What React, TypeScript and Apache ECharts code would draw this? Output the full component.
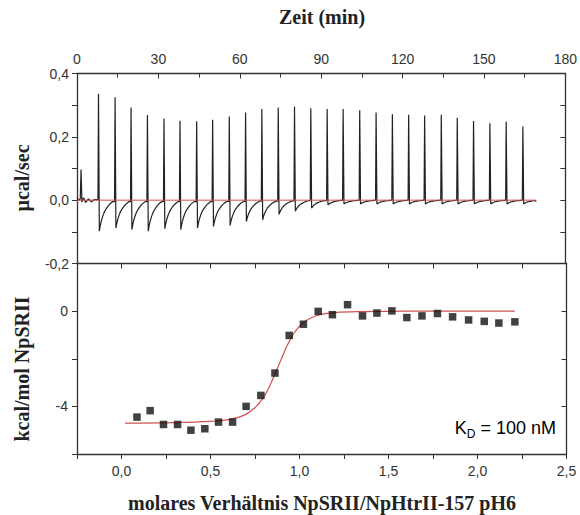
import React, { useEffect, useRef } from "react";
import * as echarts from "echarts";

// ---- Top panel: raw thermogram ----
const injectionTimes = [7.73, 13.84, 19.73, 25.76, 31.87, 37.76, 43.91, 49.8, 55.94, 61.94, 67.94, 73.98, 79.98, 85.98, 92.01, 97.9, 104.01, 110.05, 116.05, 122.05, 127.94, 134.08, 139.97, 145.97, 152.0, 158.0, 164.15];
const peakHeights = [0.336, 0.325, 0.293, 0.269, 0.258, 0.251, 0.249, 0.254, 0.264, 0.277, 0.288, 0.293, 0.296, 0.29, 0.288, 0.288, 0.284, 0.277, 0.271, 0.27, 0.267, 0.27, 0.26, 0.25, 0.243, 0.248, 0.233];
const troughDepths = [-0.098, -0.088, -0.093, -0.098, -0.09, -0.093, -0.088, -0.083, -0.08, -0.067, -0.062, -0.045, -0.035, -0.025, -0.015, -0.012, -0.012, -0.012, -0.012, -0.012, -0.012, -0.012, -0.012, -0.012, -0.012, -0.012, -0.012];
// recovery shape after each injection (min after injection, fraction of trough depth), read from one injection
const recoveryTimes = [0.5, 0.8, 1.2, 1.7, 2.2, 2.8, 3.4, 4.0, 4.7, 5.4];
const recoveryFrac = [1, 0.84, 0.68, 0.53, 0.41, 0.31, 0.23, 0.16, 0.1, 0.05];
const preTrace: [number, number][] = [[0, 0.006], [0.8, 0.0], [1.2, 0.004], [1.5, 0.097], [1.8, -0.006], [2.4, 0.008], [3.2, -0.007], [4.2, 0.004], [5.3, -0.005], [6.5, 0.002]];
const traceEnd: [number, number] = [169.3, -0.004];
const baselineLine: [number, number][] = [[0, 0], [169.3, 0]];

// ---- Bottom panel: integrated heats ----
const ratioX = [0.087, 0.161, 0.236, 0.315, 0.39, 0.468, 0.545, 0.624, 0.7, 0.783, 0.862, 0.942, 1.022, 1.105, 1.185, 1.27, 1.354, 1.435, 1.519, 1.603, 1.688, 1.775, 1.86, 1.95, 2.038, 2.12, 2.21];
const heatY = [-4.45, -4.18, -4.76, -4.76, -5.0, -4.94, -4.66, -4.66, -4.0, -3.54, -2.6, -1.02, -0.55, -0.01, -0.15, 0.27, -0.2, -0.08, 0.01, -0.27, -0.2, -0.1, -0.24, -0.37, -0.43, -0.5, -0.45];
const fitX = [0.02, 0.3, 0.5, 0.6, 0.68, 0.74, 0.8, 0.85, 0.89, 0.93, 0.97, 1.01, 1.06, 1.12, 1.2, 1.35, 1.6, 2.21];
const fitY = [-4.7, -4.68, -4.63, -4.56, -4.4, -4.12, -3.6, -2.85, -2.15, -1.45, -0.92, -0.56, -0.3, -0.14, -0.06, -0.02, 0, 0];

const timeTicks = [0, 30, 60, 90, 120, 150, 180];

function buildTrace(): [number, number][] {
  const pts: [number, number][] = preTrace.slice();
  let last = preTrace[preTrace.length - 1][1];
  injectionTimes.forEach((t0, i) => {
    pts.push([t0, last]);
    pts.push([t0 + 0.2, peakHeights[i]]);
    recoveryTimes.forEach((rt, k) => {
      const next = i + 1 < injectionTimes.length ? injectionTimes[i + 1] : traceEnd[0];
      if (t0 + rt < next) pts.push([t0 + rt, troughDepths[i] * recoveryFrac[k]]);
    });
    last = troughDepths[i] * recoveryFrac[recoveryFrac.length - 1];
  });
  pts.push(traceEnd);
  return pts;
}

const AXIS = "#333";
const LABEL = { color: "#333", fontFamily: "Liberation Sans, Arial, sans-serif", fontSize: 14 };
const TITLE_FONT = "bold 20px 'Liberation Serif', 'Times New Roman', serif";
const GL = 77;
const GR = 13.5;

export default function App() {
  const ref = useRef<HTMLDivElement>(null);
  useEffect(() => {
    if (!ref.current) return;
    const chart = echarts.init(ref.current, undefined, { renderer: "svg" });
    const axisLine = { show: true, onZero: false, lineStyle: { color: AXIS, width: 1.3 } };
    const fmtComma1 = (v: number) => v.toFixed(1).replace(".", ",").replace("-0,0", "0,0");
    chart.setOption({
      animation: false,
      backgroundColor: "#fff",
      grid: [
        { left: GL, right: GR, top: 73.5, height: 190 },
        { left: GL, right: GR, top: 263.5, height: 190.5 },
      ],
      xAxis: [
        {
          type: "value", gridIndex: 0, position: "top", min: 0, max: 180, interval: 30,
          axisLine, splitLine: { show: false },
          axisTick: { show: true, inside: true, length: 5, lineStyle: { color: AXIS } },
          minorTick: { show: true, splitNumber: 2, length: 4, lineStyle: { color: AXIS } },
          axisLabel: { ...LABEL, margin: 8, formatter: (v: number) => (timeTicks.includes(v) ? String(v) : "") },
        },
        {
          type: "value", gridIndex: 1, position: "bottom", min: -0.25, max: 2.5, interval: 0.25,
          axisLine, splitLine: { show: false },
          axisTick: { show: true, inside: false, length: 5, lineStyle: { color: AXIS } },
          axisLabel: {
            ...LABEL, margin: 10,
            formatter: (v: number) => {
              const r = Math.round(v * 4);
              return r % 2 === 0 ? fmtComma1(v) : "";
            },
          },
        },
        {
          type: "value", gridIndex: 1, position: "top", min: -0.25, max: 2.5, interval: 0.25,
          axisLine, splitLine: { show: false },
          axisTick: { show: true, inside: true, length: 5, lineStyle: { color: AXIS } },
          axisLabel: { show: false },
        },
      ],
      yAxis: [
        {
          type: "value", gridIndex: 0, position: "left", min: -0.2, max: 0.4, interval: 0.2,
          axisLine, splitLine: { show: false },
          axisTick: { show: true, inside: false, length: 5, lineStyle: { color: AXIS } },
          minorTick: { show: true, splitNumber: 2, length: 5, lineStyle: { color: AXIS } },
          axisLabel: { ...LABEL, margin: 8, formatter: fmtComma1 },
        },
        {
          type: "value", gridIndex: 0, position: "right", min: -0.2, max: 0.4, interval: 0.2,
          axisLine, splitLine: { show: false },
          axisTick: { show: true, inside: true, length: 5, lineStyle: { color: AXIS } },
          minorTick: { show: true, splitNumber: 2, length: 5, lineStyle: { color: AXIS } },
          axisLabel: { show: false },
        },
        {
          type: "value", gridIndex: 1, position: "left", min: -6, max: 2, interval: 2,
          axisLine, splitLine: { show: false },
          axisTick: { show: true, inside: false, length: 5, lineStyle: { color: AXIS } },
          axisLabel: {
            ...LABEL, margin: 9,
            formatter: (v: number) => (v === 0 ? "0" : v === -4 ? "-4" : ""),
          },
        },
        {
          type: "value", gridIndex: 1, position: "right", min: -6, max: 2, interval: 2,
          axisLine, splitLine: { show: false },
          axisTick: { show: true, inside: true, length: 5, lineStyle: { color: AXIS } },
          axisLabel: { show: false },
        },
      ],
      series: [
        {
          type: "line", xAxisIndex: 0, yAxisIndex: 0, data: buildTrace(), showSymbol: false,
          lineStyle: { color: "#222", width: 1.2 }, silent: true, z: 2,
        },
        {
          type: "line", xAxisIndex: 0, yAxisIndex: 0, data: baselineLine, showSymbol: false,
          lineStyle: { color: "#d05050", width: 1 }, silent: true, z: 3,
        },
        {
          type: "line", xAxisIndex: 1, yAxisIndex: 2, data: fitX.map((x, i) => [x, fitY[i]]), showSymbol: false,
          smooth: 0.4, lineStyle: { color: "#d05050", width: 1.2 }, silent: true, z: 2,
        },
        {
          type: "scatter", xAxisIndex: 1, yAxisIndex: 2, data: ratioX.map((x, i) => [x, heatY[i]]),
          symbol: "rect", symbolSize: 7.5, itemStyle: { color: "#111" }, silent: true, z: 4,
        },
      ],
      graphic: [
        {
          type: "text", x: 322, y: 17,
          style: { text: "Zeit (min)", font: TITLE_FONT, fill: "#222", align: "center", verticalAlign: "middle" },
        },
        {
          type: "text", x: 22, y: 178, rotation: Math.PI / 2,
          style: { text: "µcal/sec", font: TITLE_FONT, fill: "#222", align: "center", verticalAlign: "middle" },
        },
        {
          type: "text", x: 22, y: 369, rotation: Math.PI / 2,
          style: { text: "kcal/mol NpSRII", font: TITLE_FONT, fill: "#222", align: "center", verticalAlign: "middle" },
        },
        {
          type: "text", x: 322, y: 503,
          style: { text: "molares Verhältnis NpSRII/NpHtrII-157 pH6", font: TITLE_FONT, fill: "#222", align: "center", verticalAlign: "middle" },
        },
        {
          type: "text", x: 556, y: 428,
          style: {
            text: "{a|K}{s|D}{a| = 100 nM}", align: "right", verticalAlign: "middle",
            rich: {
              a: { fontFamily: "Liberation Sans, Arial, sans-serif", fontSize: 18, color: "#333" },
              s: { fontFamily: "Liberation Sans, Arial, sans-serif", fontSize: 12, color: "#333", padding: [12, 0, 0, 0] },
            },
          },
        },
      ],
    });
    return () => chart.dispose();
  }, []);
  return <div ref={ref} style={{ position: "fixed", left: 0, top: 0, width: 580, height: 515 }} />;
}
